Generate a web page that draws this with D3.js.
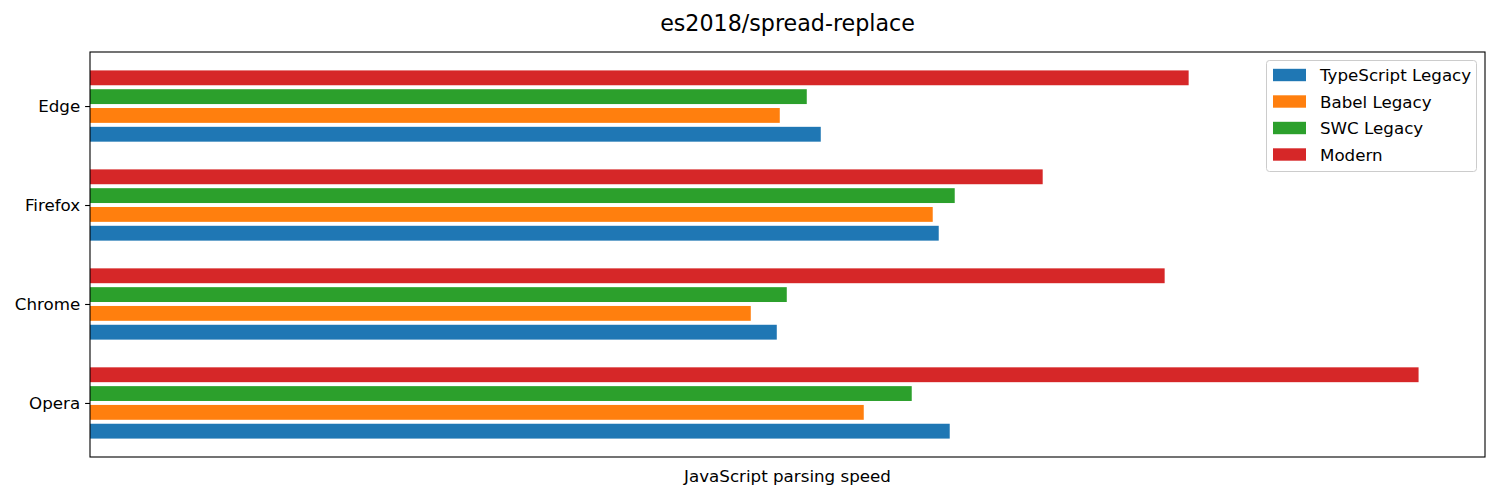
<!DOCTYPE html>
<html>
<head>
<meta charset="utf-8">
<script src="https://cdn.jsdelivr.net/npm/d3@7"></script>
<style>
  body { margin: 0; background: #fff; }
  text { font-family: "DejaVu Sans", sans-serif; fill: #000; }
</style>
</head>
<body>
<div id="chart"></div>
<script>
// data (relative parsing speed)
var browsers = ["Opera", "Chrome", "Firefox", "Edge"];
var series = ["TypeScript Legacy", "Babel Legacy", "SWC Legacy", "Modern"];
var colors = ["#1f77b4", "#ff7f0e", "#2ca02c", "#d62728"];
var typescriptLegacy = [860, 687, 849, 731];
var babelLegacy = [774, 661, 843, 690];
var swcLegacy = [822, 697, 865, 717];
var modern = [1329, 1075, 953, 1099];
var values = [typescriptLegacy, babelLegacy, swcLegacy, modern];

var svgWidth = 1500;
var svgHeight = 500;
var margin = { top: 52, right: 15, bottom: 43, left: 90 };
var width = svgWidth - margin.left - margin.right;
var height = svgHeight - margin.top - margin.bottom;

var barH = 0.15;
var step = 0.19;

var svg = d3.select("#chart").append("svg")
  .attr("width", svgWidth)
  .attr("height", svgHeight);

var chartGroup = svg.append("g")
  .attr("transform", `translate(${margin.left}, ${margin.top})`);

var maxVal = d3.max(values, s => d3.max(s));
var x = d3.scaleLinear().domain([0, maxVal * 1.05]).range([0, width]);

var lo = -1.5 * step - barH / 2, hi = browsers.length - 1 + 1.5 * step + barH / 2;
var pad = (hi - lo) * 0.05;
var y = d3.scaleLinear().domain([lo - pad, hi + pad]).range([height, 0]);

// bars
series.forEach(function(name, si) {
  var off = (si - 1.5) * step;
  chartGroup.append("g").selectAll("rect")
    .data(values[si])
    .enter().append("rect")
    .attr("x", x(0))
    .attr("y", (d, i) => y(i + off + barH / 2))
    .attr("height", (d, i) => y(i + off - barH / 2) - y(i + off + barH / 2))
    .attr("width", d => x(d) - x(0))
    .attr("fill", colors[si]);
});

// y axis
var leftAxis = d3.axisLeft(y)
  .tickValues(d3.range(browsers.length))
  .tickFormat(i => browsers[i])
  .tickSize(4.9)
  .tickPadding(4.9);
var yg = chartGroup.append("g").call(leftAxis);
yg.select(".domain").remove();
yg.selectAll("line").attr("stroke", "#000").attr("stroke-width", 1.1);
yg.selectAll("text").attr("font-size", "16.7px").attr("font-family", "DejaVu Sans");

// frame
chartGroup.append("rect")
  .attr("width", width).attr("height", height)
  .attr("fill", "none").attr("stroke", "#000").attr("stroke-width", 1.1);

// title and axis label
svg.append("text")
  .attr("x", margin.left + width / 2).attr("y", 31)
  .attr("text-anchor", "middle").attr("font-size", "22.2px")
  .text("es2018/spread-replace");

svg.append("text")
  .attr("x", margin.left + width / 2).attr("y", 482)
  .attr("text-anchor", "middle").attr("font-size", "16.7px")
  .text("JavaScript parsing speed");

// legend
var legend = svg.append("g").attr("transform", "translate(1266.5, 60.5)");
legend.append("rect")
  .attr("width", 210).attr("height", 111).attr("rx", 3)
  .attr("fill", "#fff").attr("fill-opacity", 0.8)
  .attr("stroke", "#ccc").attr("stroke-width", 1);
series.forEach(function(name, i) {
  var row = legend.append("g").attr("transform", `translate(0, ${14.5 + i * 26.5})`);
  row.append("rect").attr("x", 6.5).attr("y", -6.2).attr("width", 33).attr("height", 12.4).attr("fill", colors[i]);
  row.append("text").attr("x", 53.5).attr("y", 6).attr("font-size", "16.7px").text(name);
});
</script>
</body>
</html>
